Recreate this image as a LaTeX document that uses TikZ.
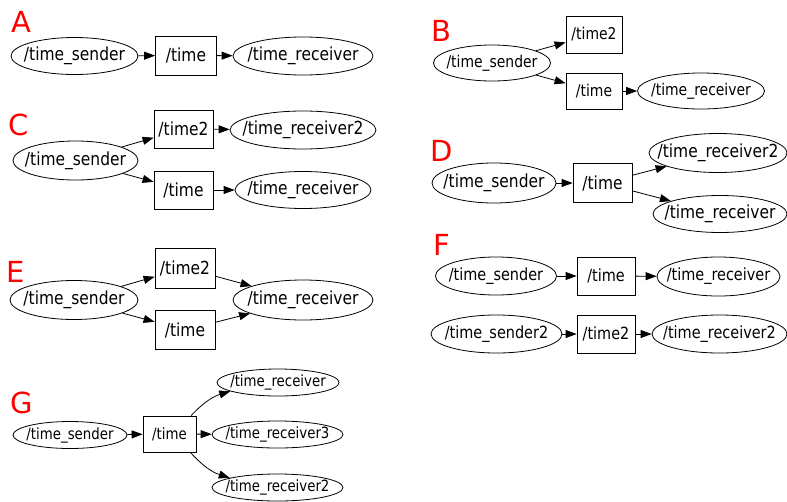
\documentclass[tikz,border=0pt]{standalone}
\usepackage{fontspec}
\setmainfont{DejaVu Sans}
\newfontfamily\graphfont[FakeStretch=0.86]{DejaVu Sans}
\usetikzlibrary{arrows.meta,shapes.geometric}
\tikzset{
    >={Triangle[length=11pt,width=8pt]},
    ros/.style={
        x=1pt,y=1pt,
        font=\graphfont\fontsize{18}{21}\selectfont,
        every node/.append style={line width=0.8pt},
        every edge/.append style={draw,line width=0.8pt}
    },
    % text kept in a box of no width, so that the ellipse takes the given size
    rnode/.style 2 args={draw,ellipse,inner sep=0pt,minimum width=#1pt,minimum height=#2pt,
        execute at begin node={\setbox0=\hbox\bgroup},
        execute at end node={\egroup\hbox to 0pt{\hss\box0\hss}}},
    topic/.style 2 args={draw,rectangle,inner sep=0pt,minimum width=#1pt,minimum height=#2pt},
    panel/.style={text=red,font=\normalfont\fontsize{29}{30}\selectfont}
}

\begin{document}
\begin{tikzpicture}[ros]
    \useasboundingbox (0,0) rectangle (787,-501);
    % A
    \node[panel] (lab_a) at (21,-22) {A};
    \node[rnode={127}{37}] (a_send) at (74.5,-56) {/time\_sender};
    \node[topic={61}{39}] (a_time) at (186,-55.5) {/time} edge[<-] (a_send);
    \node[rnode={140}{38}] (a_recv) at (303,-56) {/time\_receiver} edge[<-] (a_time);
    % B
    \begin{scope}[font=\graphfont\fontsize{16.2}{19}\selectfont]
    \node[panel] (lab_b) at (441,-31) {B};
    \node[rnode={117}{36}] (b_send) at (492,-63) {/time\_sender};
    \node[topic={56}{37}] (b_time2) at (594,-34.5) {/time2} edge[<-] (b_send);
    \node[topic={56}{36}] (b_time) at (594,-91) {/time} edge[<-] (b_send);
    \node[rnode={127}{36}] (b_recv) at (701,-91) {/time\_receiver} edge[<-] (b_time);
    \end{scope}
    % C
    \node[panel] (lab_c) at (19,-125) {C};
    \node[rnode={125}{39}] (c_send) at (75.5,-160.5) {/time\_sender};
    \node[topic={59}{38}] (c_time2) at (183.5,-129) {/time2} edge[<-] (c_send);
    \node[rnode={146}{38}] (c_recv2) at (303,-130) {/time\_receiver2} edge[<-] (c_time2);
    \node[topic={59}{38}] (c_time) at (183.5,-190) {/time} edge[<-] (c_send);
    \node[rnode={136}{37}] (c_recv) at (303,-190) {/time\_receiver} edge[<-] (c_time);
    % D
    \node[panel] (lab_d) at (442,-151) {D};
    \node[rnode={124}{40}] (d_send) at (494,-183) {/time\_sender};
    \node[topic={59}{39}] (d_time) at (602.5,-183) {/time} edge[<-] (d_send);
    \node[rnode={138}{39}] (d_recv2) at (718,-153) {/time\_receiver2} edge[<-] (d_time);
    \node[rnode={134}{37}] (d_recv) at (720,-214) {/time\_receiver} edge[<-] (d_time);
    % E
    \node[panel] (lab_e) at (16,-272) {E};
    \node[rnode={128}{39}] (e_send) at (74,-300) {/time\_sender};
    \node[topic={60}{40}] (e_time2) at (185,-268) {/time2} edge[<-] (e_send);
    \node[topic={60}{39}] (e_time) at (185,-330) {/time} edge[<-] (e_send);
    \node[rnode={140}{40}] (e_recv) at (303,-300) {/time\_receiver} edge[<-] (e_time2) edge[<-] (e_time);
    % F
    \begin{scope}[font=\graphfont\fontsize{16.8}{20}\selectfont]
    \node[panel] (lab_f) at (441.5,-245) {F};
    \node[rnode={121}{38}] (f_send) at (496,-276) {/time\_sender};
    \node[topic={58}{38}] (f_time) at (606,-276) {/time} edge[<-] (f_send);
    \node[rnode={123}{39}] (f_recv) at (718.5,-276.5) {/time\_receiver} edge[<-] (f_time);
    \node[rnode={131}{38}] (f_send2) at (496.5,-334) {/time\_sender2};
    \node[topic={58}{38}] (f_time2) at (606,-334) {/time2} edge[<-] (f_send2);
    \node[rnode={135}{38}] (f_recv2) at (719.5,-334) {/time\_receiver2} edge[<-] (f_time2);
    \end{scope}
    % G
    \begin{scope}[font=\graphfont\fontsize{15.5}{18}\selectfont]
    \node[panel] (lab_g) at (22,-403) {G};
    \node[rnode={114}{27}] (g_send) at (70,-435) {/time\_sender};
    \node[topic={53}{36}] (g_time) at (169.5,-434) {/time} edge[<-] (g_send);
    \node[rnode={122}{27}] (g_recv) at (278,-382.5) {/time\_receiver} edge[<-,bend right=15] (g_time);
    \node[rnode={131}{27}] (g_recv3) at (277.5,-434.5) {/time\_receiver3} edge[<-] (g_time);
    \node[rnode={131}{27}] (g_recv2) at (277.5,-487.5) {/time\_receiver2} edge[<-,bend left=15] (g_time);
    \end{scope}
\end{tikzpicture}
\end{document}
